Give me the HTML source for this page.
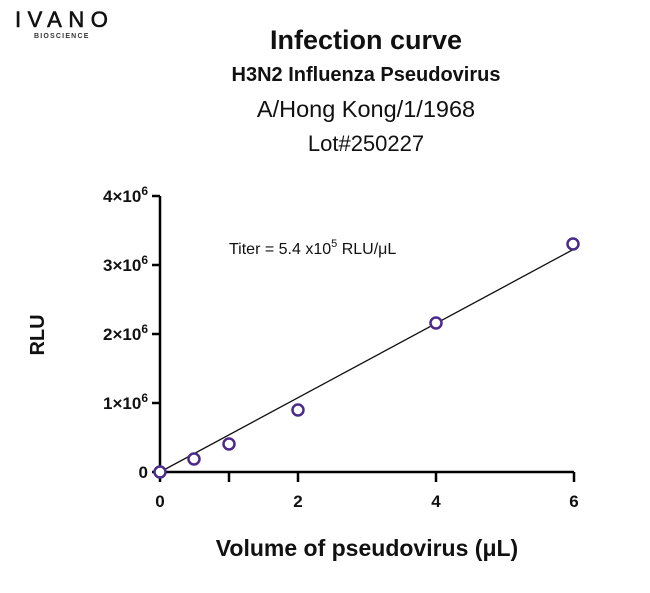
<!DOCTYPE html>
<html><head><style>body{margin:0;background:#fff}</style></head><body>
<svg width="650" height="588" xmlns="http://www.w3.org/2000/svg" font-family="Liberation Sans, sans-serif">
<text x="15" y="27" font-size="22" letter-spacing="6.5" fill="#111" stroke="#111" stroke-width="0.6">IVANO</text>
<text x="34" y="38" font-size="7" font-weight="bold" letter-spacing="1.2" fill="#333">BIOSCIENCE</text>
<text x="366" y="49" font-size="27" font-weight="bold" text-anchor="middle" fill="#111">Infection curve</text>
<text x="366" y="81" font-size="20" font-weight="bold" text-anchor="middle" fill="#111">H3N2 Influenza Pseudovirus</text>
<text x="366" y="117" font-size="23.5" text-anchor="middle" fill="#111">A/Hong Kong/1/1968</text>
<text x="366" y="151" font-size="22" text-anchor="middle" fill="#111">Lot#250227</text>
<g stroke="#000" stroke-width="2.5" fill="none">
<path d="M160,196 V472 H574"/>
<path d="M152,196H160M152,265H160M152,334H160M152,403H160M152,472H160"/>
<path d="M160,472V482M229,472V482M298,472V482M436,472V482M574,472V482"/>
</g>
<g font-size="17" font-weight="bold" text-anchor="end" fill="#111">
<text x="148" y="202">4×10<tspan dy="-7" font-size="12">6</tspan></text>
<text x="148" y="271">3×10<tspan dy="-7" font-size="12">6</tspan></text>
<text x="148" y="340">2×10<tspan dy="-7" font-size="12">6</tspan></text>
<text x="148" y="409">1×10<tspan dy="-7" font-size="12">6</tspan></text>
<text x="148" y="478">0</text>
</g>
<g font-size="17" font-weight="bold" text-anchor="middle" fill="#111">
<text x="160" y="507">0</text><text x="298" y="507">2</text><text x="436" y="507">4</text><text x="574" y="507">6</text>
</g>
<text x="367" y="556" font-size="23" font-weight="bold" text-anchor="middle" fill="#111">Volume of pseudovirus (μL)</text>
<text transform="translate(44,335) rotate(-90)" font-size="20" font-weight="bold" text-anchor="middle" fill="#111">RLU</text>
<text x="229" y="254" font-size="16" fill="#111">Titer = 5.4 x10<tspan dy="-7" font-size="11">5</tspan><tspan dy="7"> RLU/μL</tspan></text>
<line x1="160" y1="472" x2="576" y2="248" stroke="#111" stroke-width="1.3"/>
<g fill="#fff" stroke="#4b2a8c" stroke-width="2.5">
<circle cx="160" cy="472" r="5.5"/><circle cx="194" cy="459" r="5.5"/><circle cx="229" cy="444" r="5.5"/>
<circle cx="298" cy="410" r="5.5"/><circle cx="436" cy="323" r="5.5"/><circle cx="573" cy="244" r="5.5"/>
</g>
</svg>
</body></html>
